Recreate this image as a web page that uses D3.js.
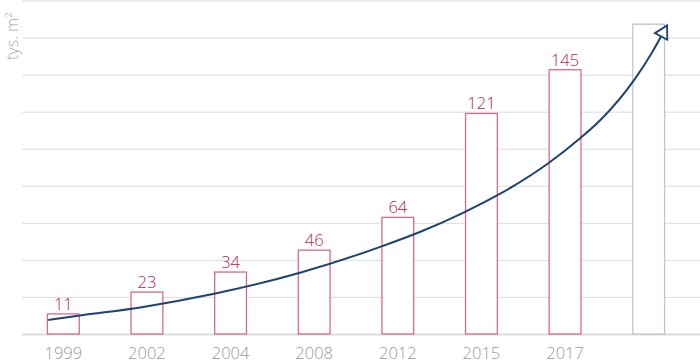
<!DOCTYPE html>
<html>
<head>
<meta charset="utf-8">
<script src="https://cdn.jsdelivr.net/npm/d3@7/dist/d3.min.js"></script>
<style>
body {margin:0; background:#fff;}
svg {display:block;}
</style>
</head>
<body>
<svg></svg>
<script>

//data//

var years = ["1999","2002","2004","2008","2012","2015","2017",""];
var areas = [11,23,34,46,64,121,145,170];
var labels = ["11","23","34","46","64","121","145",""];
var forecast = [false,false,false,false,false,false,false,true];

//trend arrow: position in bar slots, value in tys. m2//
var trendIndex = [-0.18,0.2,0.92,1.79,2.83,3.79,4.27,4.78,5.17,5.8,6.18,6.42,6.84,7.04,7.22];
var trendValue = [7.7,10.2,14.6,21.9,33.6,47.8,56.1,66.5,75.6,93.7,107.4,117.3,140.3,154.5,169.3];

var yTitle = "tys. m²";
var yMax = 183;
var gridCount = 9;

//screen size and margins//

var screen = {width: 700, height: 364}
var plot = {left: 22, right: 700, top: 0.5, bottom: 334}

var font = "'Open Sans',sans-serif";

var svg = d3.select("svg")
            .attr("width",screen.width)
            .attr("height",screen.height)

var xScale = d3.scaleBand()
               .domain(years)
               .range([21.5,690.5])
               .paddingInner(0.62)
               .paddingOuter(0.31)

var yScale = d3.scaleLinear()
               .domain([0,yMax])
               .range([plot.bottom,plot.top])

var bw = xScale.bandwidth();

//continuous scale for the arrow, same centres as the bars//
var tScale = d3.scaleLinear()
               .domain([0,years.length-1])
               .range([xScale(years[0])+bw/2, xScale(years[years.length-1])+bw/2])

//grid lines, no tick labels on y//

var gridValues = d3.range(gridCount+1).map(function(i){ return yMax*i/gridCount; });

var yAxis = d3.axisLeft(yScale)
              .tickValues(gridValues)
              .tickSize(-(plot.right-plot.left))
              .tickFormat("")

svg.append("g")
   .attr("id","grid")
   .attr("transform","translate("+plot.left+",0)")
   .call(yAxis)
   .call(function(g){ g.select(".domain").remove(); })
   .selectAll(".tick line")
   .attr("stroke","#dcdcdc")
   .attr("stroke-width",function(d,i){ return i==0 ? 2 : 1; })

//bars//

svg.append("g")
   .attr("id","bars")
   .selectAll("rect")
   .data(areas)
   .enter()
   .append("rect")
   .attr("x",function(d,i){ return xScale(years[i]); })
   .attr("y",function(d){ return yScale(d); })
   .attr("width",bw)
   .attr("height",function(d){ return yScale(0)-yScale(d); })
   .attr("fill","#fff")
   .attr("stroke",function(d,i){ return forecast[i] ? "#bcc5ce" : "#d6698f"; })
   .attr("stroke-width",1.3)

//value labels//

svg.append("g")
   .attr("id","labels")
   .selectAll("text")
   .data(areas)
   .enter()
   .append("text")
   .attr("x",function(d,i){ return xScale(years[i])+bw/2; })
   .attr("y",function(d){ return yScale(d)-4; })
   .attr("text-anchor","middle")
   .attr("font-family",font)
   .attr("font-weight",300)
   .attr("font-size",16.5)
   .attr("fill","#b52352")
   .text(function(d,i){ return labels[i]; })

//x axis years//

var xAxis = d3.axisBottom(xScale)
              .tickSize(0)
              .tickPadding(13)

svg.append("g")
   .attr("id","xAxis")
   .attr("transform","translate(0,"+plot.bottom+")")
   .call(xAxis)
   .call(function(g){ g.select(".domain").remove(); })
   .selectAll("text")
   .attr("font-family",font)
   .attr("font-weight",300)
   .attr("font-size",16.5)
   .attr("fill","#999")

//y title//

svg.append("text")
   .attr("transform","translate(18,60) rotate(-90)")
   .attr("font-family",font)
   .attr("font-weight",300)
   .attr("font-size",16)
   .attr("fill","#a8a8a8")
   .text(yTitle)

//trend arrow//

svg.append("defs")
   .append("marker")
   .attr("id","arrow")
   .attr("viewBox","-16 -10 20 20")
   .attr("markerWidth",20)
   .attr("markerHeight",20)
   .attr("refX",0)
   .attr("refY",0)
   .attr("orient","auto")
   .attr("markerUnits","userSpaceOnUse")
   .append("path")
   .attr("d","M-12.5,-7L0,0L-12.5,7Z")
   .attr("fill","#fff")
   .attr("stroke","#1d4370")
   .attr("stroke-width",1.8)

var line = d3.line()
             .x(function(d,i){ return tScale(trendIndex[i]); })
             .y(function(d){ return yScale(d); })
             .curve(d3.curveMonotoneX)

svg.append("path")
   .datum(trendValue)
   .attr("d",line)
   .attr("fill","none")
   .attr("stroke","#1d4370")
   .attr("stroke-width",2)
   .attr("marker-end","url(#arrow)")

</script>
</body>
</html>
